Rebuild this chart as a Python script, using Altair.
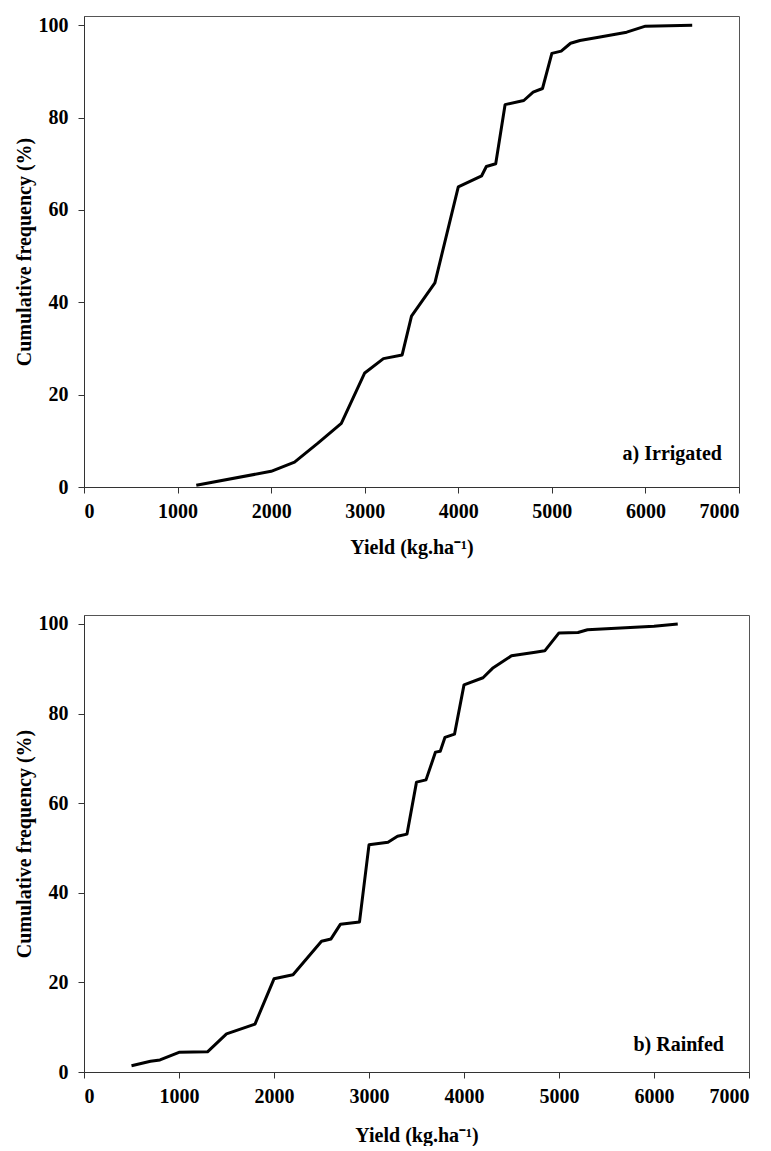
import altair as alt
import pandas as pd

# Irrigated
irr_yield = [1200, 2000, 2250, 2500, 2750, 3000, 3200, 3400, 3500, 3750, 4000, 4250, 4300, 4400,
             4500, 4700, 4800, 4900, 5000, 5100, 5200, 5300, 5500, 5800, 6000, 6500]
irr_freq = [0.4, 3.4, 5.4, 9.5, 13.8, 24.7, 27.8, 28.6, 37.0, 44.2, 65.0, 67.4, 69.4, 70.0,
            82.8, 83.7, 85.5, 86.3, 93.9, 94.4, 96.1, 96.7, 97.4, 98.5, 99.8, 100.0]

# Rainfed
rf_yield = [500, 700, 800, 1000, 1300, 1500, 1800, 2000, 2200, 2500, 2600, 2700, 2900, 3000,
            3200, 3300, 3400, 3500, 3600, 3700, 3750, 3800, 3900, 4000, 4200, 4300, 4500,
            4750, 4850, 5000, 5200, 5300, 6000, 6250]
rf_freq = [1.4, 2.4, 2.7, 4.4, 4.5, 8.5, 10.7, 20.8, 21.7, 29.2, 29.7, 33.0, 33.5, 50.7,
           51.3, 52.6, 53.1, 64.7, 65.2, 71.4, 71.6, 74.7, 75.4, 86.4, 88.0, 90.1, 92.9,
           93.7, 94.0, 98.0, 98.1, 98.7, 99.5, 100.0]

x_ticks = [0, 1000, 2000, 3000, 4000, 5000, 6000, 7000]
y_ticks = [0, 20, 40, 60, 80, 100]

FONT = "Liberation Serif"

axis_style = dict(
    labelFont=FONT, labelFontSize=20, labelFontWeight="bold", labelColor="black",
    titleFont=FONT, titleFontSize=20, titleFontWeight="bold", titleColor="black",
    grid=False, tickSize=6, domainColor="#333", tickColor="#333",
)


def panel(xs, ys, label, w, h, lx, ly, xtp):
    df = pd.DataFrame({"yield": xs, "freq": ys})
    x = alt.X("yield:Q", scale=alt.Scale(domain=[0, 7000], nice=False),
              axis=alt.Axis(values=x_ticks, format="d", title="Yield (kg.ha\u207b\u00b9)",
                            labelPadding=8, titlePadding=xtp, **axis_style))
    y = alt.Y("freq:Q", scale=alt.Scale(domain=[0, 102], nice=False),
              axis=alt.Axis(values=y_ticks, title="Cumulative frequency (%)",
                            labelPadding=10, titlePadding=4, **axis_style))
    line = alt.Chart(df).mark_line(color="black", strokeWidth=3, strokeJoin="round").encode(x=x, y=y)
    txt = alt.Chart(pd.DataFrame({"t": [label]})).mark_text(
        align="right", baseline="middle", font=FONT, fontSize=20, fontWeight="bold", color="black"
    ).encode(x=alt.value(lx), y=alt.value(ly), text="t:N")
    return alt.layer(line, txt).properties(width=w, height=h)


top = panel(irr_yield, irr_freq, "a) Irrigated", 655, 471, 638, 438, 16)
bottom = panel(rf_yield, rf_freq, "b) Rainfed", 665, 457, 640, 430, 19)

chart = alt.vconcat(top, bottom, spacing=55).configure(
    background="white", padding={"left": 5, "top": 6, "right": 5, "bottom": 0}
).configure_view(
    stroke="#555", strokeWidth=1
)

chart.save("out.html", embed_options={"renderer": "svg", "actions": False})
